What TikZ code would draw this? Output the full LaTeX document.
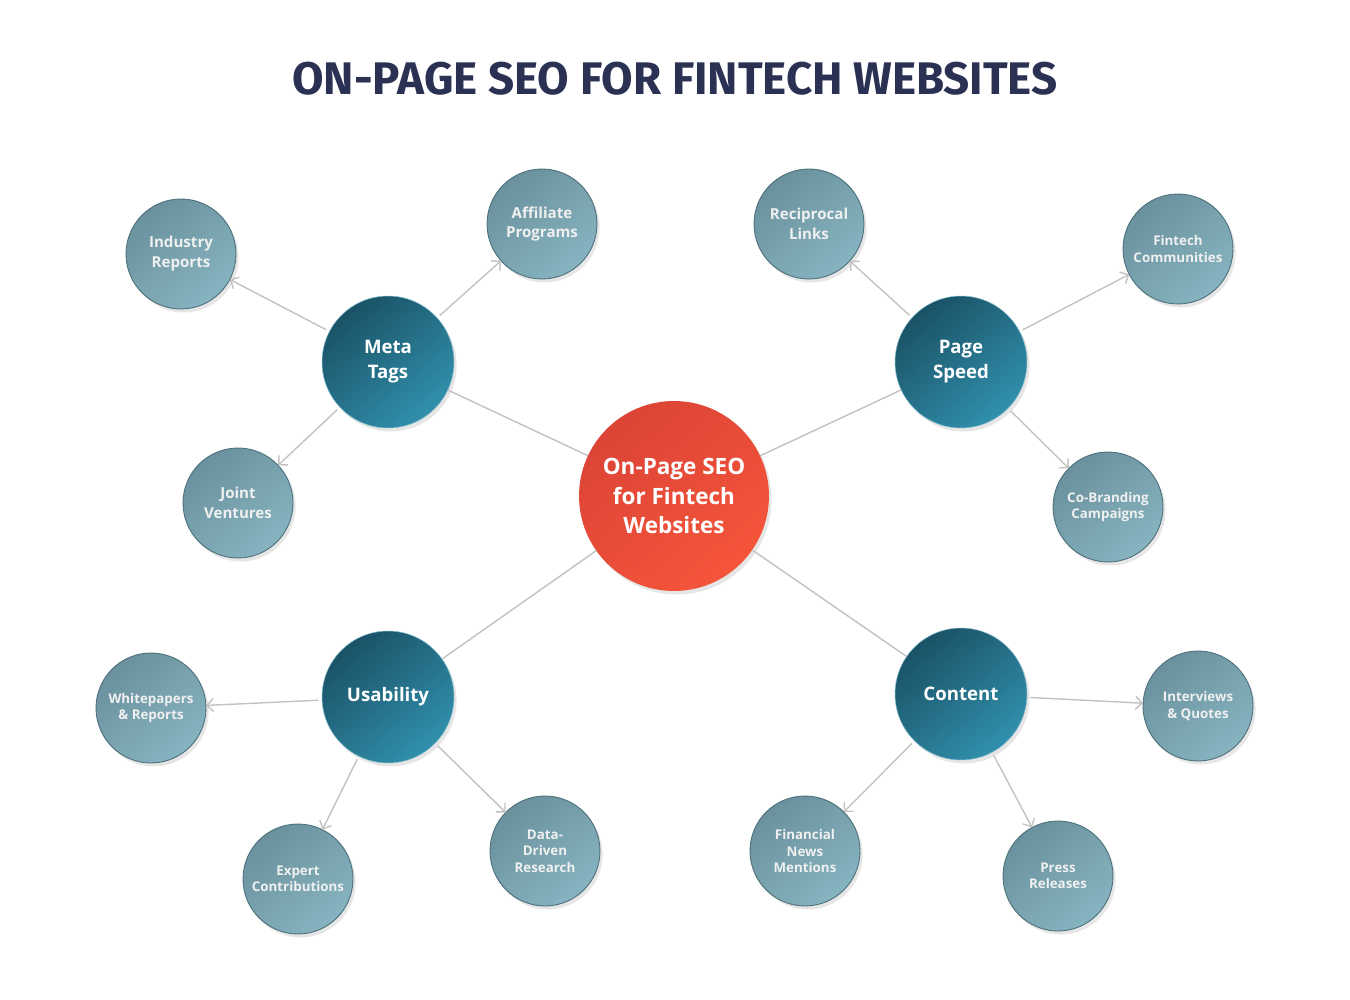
\documentclass[tikz,border=0pt]{standalone}
\usepackage{fontspec}
\setmainfont{Open Sans}
\newfontfamily\titlefont{Fira Sans}
\usetikzlibrary{arrows.meta,shadows}

\definecolor{titleblue}{HTML}{2A3153}
\definecolor{seodark}{HTML}{DB4436}
\definecolor{seolight}{HTML}{F5553A}
\definecolor{hubdark}{HTML}{1A5266}
\definecolor{hublight}{HTML}{3190AC}
\definecolor{leafdark}{HTML}{6A919D}
\definecolor{leaflight}{HTML}{86B4C0}
\definecolor{leafline}{HTML}{4B6F7A}
\definecolor{linkgray}{HTML}{C2C2C2}

\begin{document}
\begin{tikzpicture}[x=0.02cm, y=-0.02cm,
  seo/.style={circle, inner sep=0pt, outer sep=0pt, minimum size=3.8cm,
    top color=seodark, bottom color=seolight, shading angle=40,
    text=white, align=center, font=\bfseries\fontsize{12.8}{17}\selectfont,
    drop shadow={shadow xshift=1.5pt, shadow yshift=-2pt, opacity=0.2}},
  hub/.style={circle, inner sep=0pt, outer sep=0pt, minimum size=2.64cm,
    top color=hubdark, bottom color=hublight, shading angle=40,
    draw=hublight!60!white, line width=0.3pt,
    text=white, align=center, font=\bfseries\fontsize{10.6}{14.2}\selectfont,
    drop shadow={shadow xshift=1.5pt, shadow yshift=-2pt, opacity=0.2}},
  leaf/.style={circle, inner sep=0pt, outer sep=0pt, minimum size=2.2cm,
    top color=leafdark, bottom color=leaflight, shading angle=40,
    draw=leafline, line width=0.5pt,
    text=white!94!black, align=center, font=\bfseries\fontsize{7.6}{9.4}\selectfont,
    drop shadow={shadow xshift=1.5pt, shadow yshift=-2pt, opacity=0.2}},
  big/.style={font=\bfseries\fontsize{8.6}{11.3}\selectfont},
  link/.style={draw=linkgray, line width=0.8pt},
  branch/.style={draw=linkgray, line width=0.8pt, shorten <=2pt,
    -{Straight Barb[length=1.3mm, width=2.6mm]}}]

  \useasboundingbox (0,0) rectangle (1350,1000);

  \node[text=titleblue, font=\titlefont\bfseries\fontsize{26}{30}\selectfont] (title) at (675,79) {ON-PAGE SEO FOR FINTECH WEBSITES};

  \node[seo] (seo) at (674,496) {On-Page SEO\\for Fintech\\Websites};

  \node[hub] (meta) at (388,362) {Meta\\Tags};
  \node[hub] (speed) at (961,362) {Page\\Speed};
  \node[hub] (usability) at (388,697) {Usability};
  \node[hub] (content) at (961,694) {Content};

  \node[leaf, big] (industry) at (181,254) {Industry\\Reports};
  \node[leaf, big] (affiliate) at (542,224) {Affiliate\\Programs};
  \node[leaf, big] (joint) at (238,503) {Joint\\Ventures};

  \node[leaf, big] (reciprocal) at (809,224) {Reciprocal\\Links};
  \node[leaf] (communities) at (1178,249) {Fintech\\Communities};
  \node[leaf] (cobranding) at (1108,507) {Co-Branding\\Campaigns};

  \node[leaf] (whitepapers) at (151,708) {Whitepapers\\\& Reports};
  \node[leaf] (expert) at (298,879) {Expert\\Contributions};
  \node[leaf] (datadriven) at (545,851) {Data-\\Driven\\Research};

  \node[leaf] (financial) at (805,851) {Financial\\News\\Mentions};
  \node[leaf] (press) at (1058,876) {Press\\Releases};
  \node[leaf] (interviews) at (1198,706) {Interviews\\\& Quotes};

  % center to the four hubs
  \draw[link] (meta) -- (seo);
  \draw[link] (speed) -- (seo);
  \draw[link] (usability) -- (seo);
  \draw[link] (content) -- (seo);

  \draw[branch] (meta) -- (industry);
  \draw[branch] (meta) -- (affiliate);
  \draw[branch] (meta) -- (joint);

  \draw[branch] (speed) -- (reciprocal);
  \draw[branch] (speed) -- (communities);
  \draw[branch] (speed) -- (cobranding);

  \draw[branch] (usability) -- (whitepapers);
  \draw[branch] (usability) -- (expert);
  \draw[branch] (usability) -- (datadriven);

  \draw[branch] (content) -- (financial);
  \draw[branch] (content) -- (press);
  \draw[branch] (content) -- (interviews);

\end{tikzpicture}
\end{document}
